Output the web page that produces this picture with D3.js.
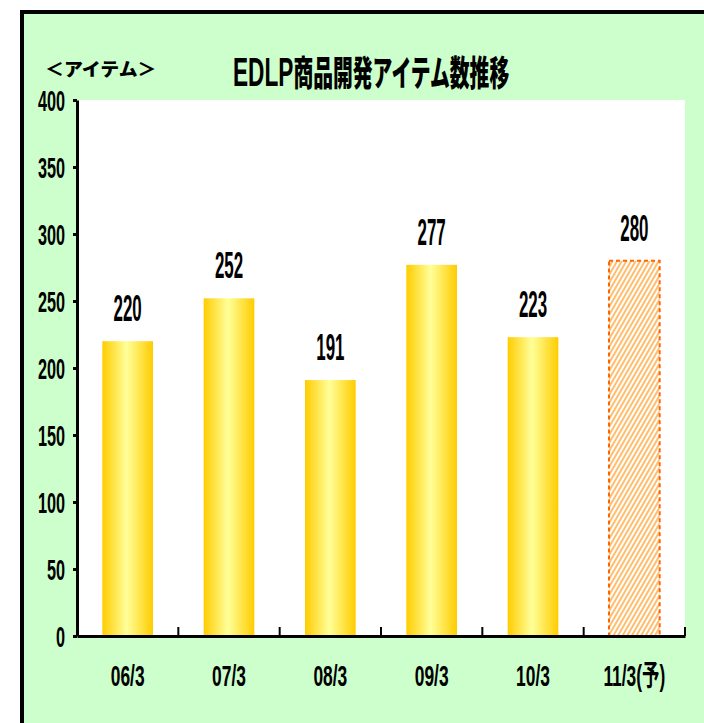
<!DOCTYPE html>
<html>
<head>
<meta charset="utf-8">
<script src="https://cdn.jsdelivr.net/npm/d3@7"></script>
<style>
  body { margin: 0; background: #fff; }
  svg { display: block; }
</style>
</head>
<body>
<div id="chart"></div>
<script>
// data
const categories = ['06/3', '07/3', '08/3', '09/3', '10/3', '11/3(予)'];
const items = [220, 252, 191, 277, 223, 280];
const isForecast = [false, false, false, false, false, true];
const yTicks = [0, 50, 100, 150, 200, 250, 300, 350, 400];

const w = 704;
const h = 723;
const plot = { left: 77, top: 100, right: 685, bottom: 636 };
const numFont = "'Liberation Sans', Arial, 'Noto Sans CJK JP', sans-serif";
const jpFont = "'Noto Sans CJK JP', sans-serif";

const svg = d3.select('#chart')
  .append('svg')
  .attr('width', w)
  .attr('height', h);

const defs = svg.append('defs');

const grad = defs.append('linearGradient')
  .attr('id', 'gold')
  .attr('x1', '0%').attr('x2', '100%')
  .attr('y1', '0%').attr('y2', '0%');
grad.append('stop').attr('offset', '0%').attr('stop-color', '#ffcc00');
grad.append('stop').attr('offset', '48%').attr('stop-color', '#ffff99');
grad.append('stop').attr('offset', '100%').attr('stop-color', '#ffcc00');

const hatch = defs.append('pattern')
  .attr('id', 'hatch')
  .attr('patternUnits', 'userSpaceOnUse')
  .attr('width', 4)
  .attr('height', 4)
  .attr('patternTransform', 'rotate(30)');
hatch.append('rect').attr('width', 4).attr('height', 4).attr('fill', '#fff');
hatch.append('line')
  .attr('x1', 1).attr('y1', 0).attr('x2', 1).attr('y2', 4)
  .attr('stroke', '#ffad4a')
  .attr('stroke-width', 1.6);

// background frame
svg.append('rect')
  .attr('x', 22).attr('y', 12)
  .attr('width', w).attr('height', h)
  .attr('fill', '#ccffcc')
  .attr('stroke', '#000')
  .attr('stroke-width', 4);

svg.append('rect')
  .attr('x', plot.left).attr('y', plot.top)
  .attr('width', plot.right - plot.left)
  .attr('height', plot.bottom - plot.top)
  .attr('fill', '#fff');

// titles
const title = svg.append('g')
  .attr('transform', 'translate(233,86) scale(0.566,1)')
  .append('text')
  .style('font-weight', 900)
  .style('fill', '#000');
title.append('tspan').style('font-family', numFont).style('font-size', '40px').style('font-weight', 'bold').text('EDLP');
title.append('tspan').style('font-family', jpFont).style('font-size', '35px').text('商品開発アイテム数推移');

svg.append('g')
  .attr('transform', 'translate(45,76) scale(1.05,1)')
  .append('text')
  .style('font-family', jpFont)
  .style('font-size', '18px')
  .style('font-weight', 900)
  .text('＜アイテム＞');

// scales
const xScale = d3.scaleBand()
  .domain(categories)
  .range([plot.left, plot.right])
  .paddingInner(0.5)
  .paddingOuter(0.25);

const yScale = d3.scaleLinear()
  .domain([0, 400])
  .range([plot.bottom, plot.top]);

// bars
svg.selectAll('rect.bar')
  .data(items)
  .enter()
  .append('rect')
  .attr('class', 'bar')
  .attr('x', (d, i) => xScale(categories[i]))
  .attr('y', d => yScale(d))
  .attr('width', xScale.bandwidth())
  .attr('height', d => yScale(0) - yScale(d))
  .attr('fill', (d, i) => isForecast[i] ? 'url(#hatch)' : 'url(#gold)')
  .attr('stroke', (d, i) => isForecast[i] ? '#ff6600' : 'none')
  .attr('stroke-width', 2)
  .attr('stroke-dasharray', '4,3');

// value labels
svg.selectAll('g.val')
  .data(items)
  .enter()
  .append('g')
  .attr('class', 'val')
  .attr('transform', (d, i) =>
    'translate(' + (xScale(categories[i]) + xScale.bandwidth() / 2) + ',' + (yScale(d) - 20) + ') scale(0.47,1)')
  .append('text')
  .attr('text-anchor', 'middle')
  .style('font-family', numFont)
  .style('font-size', '36px')
  .style('font-weight', 'bold')
  .text(d => d);

// y axis
const yAxis = d3.axisLeft(yScale)
  .tickValues(yTicks)
  .tickSize(4)
  .tickSizeOuter(0);

const yG = svg.append('g')
  .attr('transform', 'translate(' + plot.left + ',0)')
  .call(yAxis);
yG.select('.domain').attr('stroke', '#000').attr('stroke-width', 3);
yG.selectAll('.tick line').attr('stroke', '#000').attr('stroke-width', 3);
yG.selectAll('.tick text')
  .attr('x', -12 / 0.56)
  .attr('dy', '0.36em')
  .attr('transform', 'scale(0.56,1)')
  .style('font-family', numFont)
  .style('font-size', '29px')
  .style('font-weight', 'bold')
  .style('fill', '#000');

// x axis: labels centred on bars, ticks at category boundaries
const xAxis = d3.axisBottom(xScale).tickSize(0).tickSizeOuter(0);
const xG = svg.append('g')
  .attr('transform', 'translate(0,' + plot.bottom + ')')
  .call(xAxis);
xG.select('.domain').attr('stroke', '#000').attr('stroke-width', 3);

xG.selectAll('.tick').each(function (d) {
  const g = d3.select(this);
  g.select('text').remove();
  g.append('g')
    .attr('transform', 'translate(0,50) scale(0.6,1)')
    .append('text')
    .attr('text-anchor', 'middle')
    .style('font-family', numFont)
    .style('font-size', '29px')
    .style('font-weight', 'bold')
    .style('fill', '#000')
    .text(d);
});

const step = xScale.step();
svg.selectAll('line.xtick')
  .data(categories)
  .enter()
  .append('line')
  .attr('class', 'xtick')
  .attr('x1', d => xScale(d) + xScale.bandwidth() + step * 0.25)
  .attr('x2', d => xScale(d) + xScale.bandwidth() + step * 0.25)
  .attr('y1', plot.bottom)
  .attr('y2', plot.bottom - 9)
  .attr('stroke', '#000')
  .attr('stroke-width', 2);
</script>
</body>
</html>
